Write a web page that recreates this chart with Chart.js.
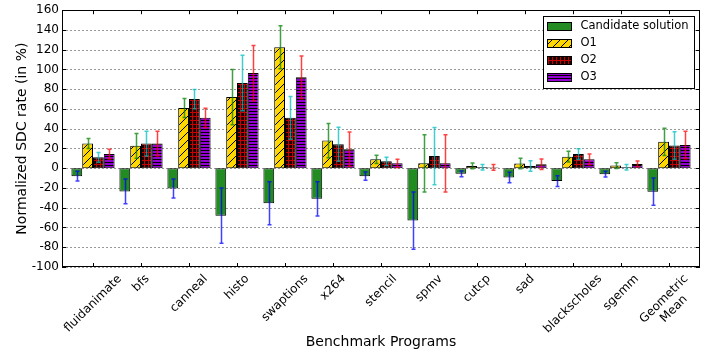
<!DOCTYPE html>
<html>
<head>
<meta charset="utf-8">
<script src="https://cdn.jsdelivr.net/npm/chart.js@4.4.1/dist/chart.umd.min.js"></script>
<style>
  html, body { margin: 0; padding: 0; background: #fff; }
  #wrap { width: 718px; height: 354px; }
</style>
</head>
<body>
<div id="wrap"><canvas id="chart" width="718" height="354"></canvas></div>
<script>
// Benchmarks along the x axis
const categories = ['fluidanimate', 'bfs', 'canneal', 'histo', 'swaptions', 'x264', 'stencil',
  'spmv', 'cutcp', 'sad', 'blackscholes', 'sgemm', ['Geometric', 'Mean']];
const seriesNames = ['Candidate solution', 'O1', 'O2', 'O3'];

// Normalized SDC rate (%) per benchmark
const candidate = [-8, -23.5, -20.5, -48, -35.5, -31, -8, -53, -5.7, -9.3, -13, -6, -23.7];
const o1 = [25, 22.7, 61, 72, 122.5, 28, 9, 5, 2.3, 4.7, 11.7, 2.7, 26.7];
const o2 = [11, 25, 70, 86.3, 51, 24.3, 7, 12.3, 1, 2.3, 14.3, 1, 23];
const o3 = [14.3, 25, 51, 96.3, 92, 19.3, 5, 5, 0.8, 4, 9, 4.3, 23.5];

// Error margin (±) per benchmark, shared by all four series
const errors = [5, 12.5, 9.7, 28, 21.7, 17.3, 4.2, 29, 2.9, 5.3, 5.5, 2.9, 13.9];

// Y axis tick range
const yMin = -100, yMax = 160, yStep = 20;

const FONT = 'DejaVu Sans';
Chart.defaults.font.family = FONT;
Chart.defaults.color = '#000';

// Repeating hatch fills
function tile(w, h, draw) {
  const c = document.createElement('canvas');
  c.width = w; c.height = h;
  const g = c.getContext('2d');
  draw(g, w, h);
  return g.createPattern(c, 'repeat');
}
const fillCandidate = '#228B22';
const fillO1 = tile(8, 8, (g, w, h) => {
  g.fillStyle = '#FFD700'; g.fillRect(0, 0, w, h);
  g.strokeStyle = '#000'; g.lineWidth = 1;
  g.beginPath();
  g.moveTo(-1, 1); g.lineTo(1, -1);
  g.moveTo(0, 8); g.lineTo(8, 0);
  g.moveTo(7, 9); g.lineTo(9, 7);
  g.stroke();
});
const fillO2 = tile(4, 4, (g, w, h) => {
  g.fillStyle = '#1a0000'; g.fillRect(0, 0, w, h);
  g.fillStyle = '#c80000';
  g.fillRect(0, 0, w, 1); g.fillRect(0, 0, 1, h);
});
const fillO3 = tile(4, 3, (g, w, h) => {
  g.fillStyle = '#9400D3'; g.fillRect(0, 0, w, h);
  g.fillStyle = '#000'; g.fillRect(0, 0, w, 1);
});

const fills = [fillCandidate, fillO1, fillO2, fillO3];
const errColors = ['#0000ff', '#008000', '#00bfbf', '#ff0000'];
const values = [candidate, o1, o2, o3];

const datasets = values.map((arr, k) => ({
  label: seriesNames[k],
  data: arr.map((v, i) => ({ x: i, y: v })),
  backgroundColor: fills[k],
  borderColor: '#000',
  borderWidth: 1,
  borderSkipped: false
}));

// Dotted horizontal grid behind the bars
const dottedGrid = {
  id: 'dottedGrid',
  beforeDatasetsDraw(chart) {
    const ctx = chart.ctx, a = chart.chartArea, ys = chart.scales.y;
    ctx.save();
    ctx.strokeStyle = '#999';
    ctx.lineWidth = 1;
    ctx.setLineDash([2, 2]);
    ctx.beginPath();
    ys.ticks.forEach(t => {
      const y = Math.round(ys.getPixelForValue(t.value)) + 0.5;
      ctx.moveTo(a.left, y); ctx.lineTo(a.right, y);
    });
    ctx.stroke();
    ctx.restore();
  }
};

// Error bars on top of the bars
const errorBars = {
  id: 'errorBars',
  afterDatasetsDraw(chart) {
    const ctx = chart.ctx, ys = chart.scales.y;
    ctx.save();
    ctx.globalAlpha = 0.75;
    ctx.lineWidth = 1.5;
    chart.data.datasets.forEach((ds, di) => {
      const meta = chart.getDatasetMeta(di);
      ctx.strokeStyle = errColors[di];
      meta.data.forEach((bar, j) => {
        const v = ds.data[j].y, e = errors[j];
        const x = Math.round(bar.x) + 0.5;
        const y1 = ys.getPixelForValue(v + e), y2 = ys.getPixelForValue(v - e);
        ctx.beginPath();
        ctx.moveTo(x, y1); ctx.lineTo(x, y2);
        ctx.moveTo(x - 2, y1); ctx.lineTo(x + 2, y1);
        ctx.moveTo(x - 2, y2); ctx.lineTo(x + 2, y2);
        ctx.stroke();
      });
    });
    ctx.restore();
  }
};

// Frame, inward ticks, rotated category labels and the boxed legend
const decorations = {
  id: 'decorations',
  afterDraw(chart) {
    const ctx = chart.ctx, a = chart.chartArea;
    const xs = chart.scales.x, ys = chart.scales.y;
    ctx.save();

    // frame
    ctx.strokeStyle = '#000'; ctx.lineWidth = 1;
    ctx.strokeRect(Math.round(a.left) + 0.5, Math.round(a.top) + 0.5,
      Math.round(a.right - a.left) - 1, Math.round(a.bottom - a.top) - 1);

    // inward ticks
    ctx.beginPath();
    xs.ticks.forEach(t => {
      const x = Math.round(xs.getPixelForValue(t.value)) + 0.5;
      ctx.moveTo(x, a.top); ctx.lineTo(x, a.top + 4);
      ctx.moveTo(x, a.bottom); ctx.lineTo(x, a.bottom - 4);
    });
    ys.ticks.forEach(t => {
      const y = Math.round(ys.getPixelForValue(t.value)) + 0.5;
      ctx.moveTo(a.left, y); ctx.lineTo(a.left + 4, y);
      ctx.moveTo(a.right, y); ctx.lineTo(a.right - 4, y);
    });
    ctx.stroke();

    // rotated category labels, bounding box centred under each tick
    ctx.font = '12px "' + FONT + '"';
    ctx.fillStyle = '#000';
    ctx.textAlign = 'center';
    ctx.textBaseline = 'middle';
    const lh = 14;
    categories.forEach((lab, i) => {
      const lines = Array.isArray(lab) ? lab : [lab];
      const W = Math.max(...lines.map(s => ctx.measureText(s).width));
      const H = lines.length * lh;
      const d = (W + H) * Math.SQRT1_2;
      const cx = xs.getPixelForValue(i);
      const cy = a.bottom + 5 + d / 2;
      ctx.save();
      ctx.translate(cx, cy);
      ctx.rotate(-Math.PI / 4);
      lines.forEach((s, k) => ctx.fillText(s, 0, (k - (lines.length - 1) / 2) * lh));
      ctx.restore();
    });

    // legend
    ctx.font = '11.5px "' + FONT + '"';
    ctx.textAlign = 'left';
    const textW = Math.max(...seriesNames.map(s => ctx.measureText(s).width));
    const bw = Math.round(4 + 24 + 9.5 + textW + 6);
    const rowH = 17.1;
    const bh = Math.round(rowH * seriesNames.length + 3.5);
    const bx = Math.round(a.right - 6 - bw), by = Math.round(a.top + 6);
    ctx.fillStyle = '#fff';
    ctx.fillRect(bx, by, bw, bh);
    ctx.strokeStyle = '#000';
    ctx.strokeRect(bx + 0.5, by + 0.5, bw, bh);
    seriesNames.forEach((name, k) => {
      const cyRow = by + 9.7 + k * rowH;
      const sx = bx + 4.5, sy = Math.round(cyRow - 4) + 0.5;
      ctx.fillStyle = fills[k];
      ctx.fillRect(sx, sy, 24, 8);
      ctx.strokeRect(sx, sy, 24, 8);
      ctx.fillStyle = '#000';
      ctx.fillText(name, bx + 37.5, cyRow + 0.5);
    });
    ctx.restore();
  }
};

new Chart(document.getElementById('chart'), {
  type: 'bar',
  data: { datasets },
  plugins: [dottedGrid, errorBars, decorations],
  options: {
    responsive: false,
    animation: false,
    devicePixelRatio: 1,
    layout: { padding: { top: 9, right: 18, bottom: 0, left: 0 } },
    datasets: { bar: { categoryPercentage: 0.9, barPercentage: 1 } },
    plugins: { legend: { display: false }, tooltip: { enabled: false } },
    scales: {
      x: {
        type: 'linear',
        min: -0.646,
        max: categories.length - 1 + 0.646,
        offset: false,
        grid: { display: false },
        border: { display: false },
        ticks: { display: false },
        afterBuildTicks(scale) { scale.ticks = categories.map((_, i) => ({ value: i })); },
        afterFit(scale) { scale.height = 87; },
        title: {
          display: true, text: 'Benchmark Programs', color: '#000',
          font: { size: 14, family: FONT }, padding: { top: 0, bottom: 3.6 }
        }
      },
      y: {
        min: yMin,
        max: yMax,
        ticks: { stepSize: yStep, padding: 3, color: '#000', font: { size: 12, family: FONT } },
        grid: { display: false, drawTicks: false },
        border: { display: false },
        afterFit(scale) { scale.width = 62; },
        title: {
          display: true, text: 'Normalized SDC rate (in %)', color: '#000',
          font: { size: 14, family: FONT }, padding: { top: 13.6, bottom: 0 }
        }
      }
    }
  }
});
</script>
</body>
</html>
